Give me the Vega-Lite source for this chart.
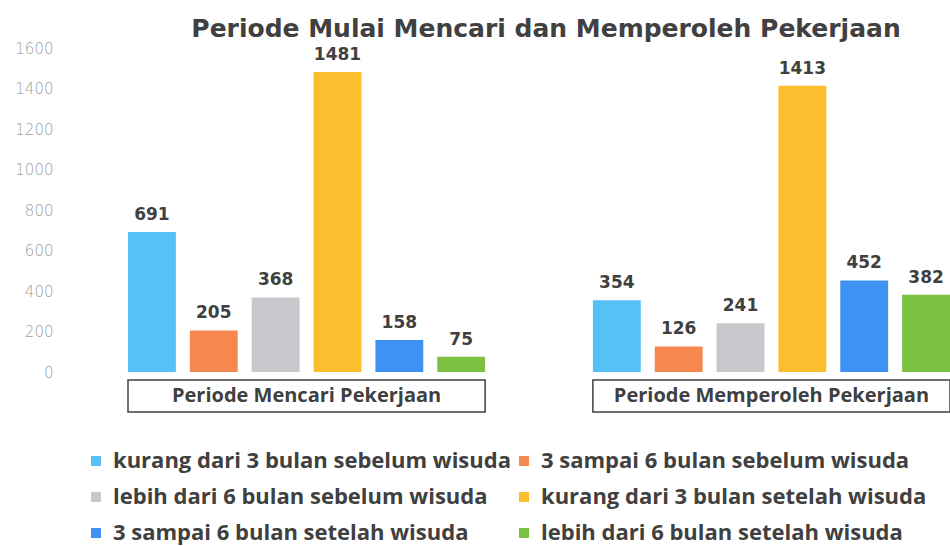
{
  "$schema": "https://vega.github.io/schema/vega-lite/v6.json",
  "width": 822,
  "height": 324,
  "autosize": "none",
  "padding": {"left": 128, "top": 48, "right": 0, "bottom": 174},
  "background": "white",
  "title": {
    "text": "Periode Mulai Mencari dan Memperoleh Pekerjaan",
    "font": "DejaVu Sans",
    "fontSize": 25,
    "fontWeight": "bold",
    "color": "#404040",
    "anchor": "middle",
    "dx": 7,
    "dy": 7,
    "offset": 6
  },
  "datasets": {
    "bars": [
      {"group": "Periode Mencari Pekerjaan", "kategori": "kurang dari 3 bulan sebelum wisuda", "jumlah": 691},
      {"group": "Periode Mencari Pekerjaan", "kategori": "3 sampai 6 bulan sebelum wisuda", "jumlah": 205},
      {"group": "Periode Mencari Pekerjaan", "kategori": "lebih dari 6 bulan sebelum wisuda", "jumlah": 368},
      {"group": "Periode Mencari Pekerjaan", "kategori": "kurang dari 3 bulan setelah wisuda", "jumlah": 1481},
      {"group": "Periode Mencari Pekerjaan", "kategori": "3 sampai 6 bulan setelah wisuda", "jumlah": 158},
      {"group": "Periode Mencari Pekerjaan", "kategori": "lebih dari 6 bulan setelah wisuda", "jumlah": 75},
      {"group": "Periode Memperoleh Pekerjaan", "kategori": "kurang dari 3 bulan sebelum wisuda", "jumlah": 354},
      {"group": "Periode Memperoleh Pekerjaan", "kategori": "3 sampai 6 bulan sebelum wisuda", "jumlah": 126},
      {"group": "Periode Memperoleh Pekerjaan", "kategori": "lebih dari 6 bulan sebelum wisuda", "jumlah": 241},
      {"group": "Periode Memperoleh Pekerjaan", "kategori": "kurang dari 3 bulan setelah wisuda", "jumlah": 1413},
      {"group": "Periode Memperoleh Pekerjaan", "kategori": "3 sampai 6 bulan setelah wisuda", "jumlah": 452},
      {"group": "Periode Memperoleh Pekerjaan", "kategori": "lebih dari 6 bulan setelah wisuda", "jumlah": 382}
    ],
    "groups": [
      {"group": "Periode Mencari Pekerjaan"},
      {"group": "Periode Memperoleh Pekerjaan"}
    ]
  },
  "layer": [
    {
      "data": {"name": "groups"},
      "mark": {"type": "rect", "fill": "white", "stroke": "#404040", "strokeWidth": 1.5},
      "encoding": {
        "x": {"field": "group", "type": "nominal", "sort": ["Periode Mencari Pekerjaan", "Periode Memperoleh Pekerjaan"], "axis": null,
              "scale": {"paddingInner": 0.2318, "paddingOuter": 0}},
        "y": {"datum": -40, "type": "quantitative"},
        "y2": {"datum": -198}
      }
    },
    {
      "data": {"name": "groups"},
      "mark": {"type": "text", "font": "Open Sans", "fontSize": 20, "fontWeight": "bold", "color": "#404040"},
      "encoding": {
        "x": {"field": "group", "type": "nominal", "sort": ["Periode Mencari Pekerjaan", "Periode Memperoleh Pekerjaan"], "axis": null, "bandPosition": 0.5},
        "y": {"datum": -118, "type": "quantitative"},
        "text": {"field": "group"}
      }
    },
    {
      "data": {"name": "bars"},
      "mark": {"type": "bar"},
      "encoding": {
        "x": {"field": "group", "type": "nominal", "sort": ["Periode Mencari Pekerjaan", "Periode Memperoleh Pekerjaan"], "axis": null},
        "xOffset": {"field": "kategori", "type": "nominal",
          "sort": ["kurang dari 3 bulan sebelum wisuda", "3 sampai 6 bulan sebelum wisuda", "lebih dari 6 bulan sebelum wisuda", "kurang dari 3 bulan setelah wisuda", "3 sampai 6 bulan setelah wisuda", "lebih dari 6 bulan setelah wisuda"],
          "scale": {"paddingInner": 0.226, "paddingOuter": 0}},
        "y": {"field": "jumlah", "type": "quantitative", "scale": {"domain": [0, 1600]},
          "axis": {"values": [0, 200, 400, 600, 800, 1000, 1200, 1400, 1600], "format": "d", "domain": false, "ticks": false, "grid": false, "title": null,
                   "labelColor": "#a0a0a0", "labelFontSize": 15, "labelFont": "DejaVu Sans", "labelFontWeight": 200, "labelPadding": 75}},
        "color": {"field": "kategori", "type": "nominal",
          "scale": {
            "domain": ["kurang dari 3 bulan sebelum wisuda", "lebih dari 6 bulan sebelum wisuda", "3 sampai 6 bulan setelah wisuda", "3 sampai 6 bulan sebelum wisuda", "kurang dari 3 bulan setelah wisuda", "lebih dari 6 bulan setelah wisuda"],
            "range": ["#55c1f7", "#c8c8cc", "#3f91f2", "#f5874f", "#fcbe2e", "#7cc142"]
          },
          "legend": {
            "orient": "none", "legendX": -43, "legendY": 402, "columns": 2, "title": null,
            "symbolType": "square", "symbolSize": 100, "symbolStrokeWidth": 0,
            "labelFont": "Open Sans", "labelFontSize": 22, "labelFontWeight": "bold", "labelColor": "#404040",
            "rowPadding": 14, "columnPadding": 2, "labelLimit": 600, "labelOffset": 6
          }
        }
      }
    },
    {
      "data": {"name": "bars"},
      "mark": {"type": "text", "font": "DejaVu Sans", "fontSize": 17, "fontWeight": "bold", "color": "#404040", "baseline": "alphabetic", "dy": -12},
      "encoding": {
        "x": {"field": "group", "type": "nominal", "sort": ["Periode Mencari Pekerjaan", "Periode Memperoleh Pekerjaan"], "axis": null},
        "xOffset": {"field": "kategori", "type": "nominal",
          "sort": ["kurang dari 3 bulan sebelum wisuda", "3 sampai 6 bulan sebelum wisuda", "lebih dari 6 bulan sebelum wisuda", "kurang dari 3 bulan setelah wisuda", "3 sampai 6 bulan setelah wisuda", "lebih dari 6 bulan setelah wisuda"]},
        "y": {"field": "jumlah", "type": "quantitative"},
        "text": {"field": "jumlah", "type": "quantitative"}
      }
    }
  ],
  "config": {"view": {"stroke": null}}
}
